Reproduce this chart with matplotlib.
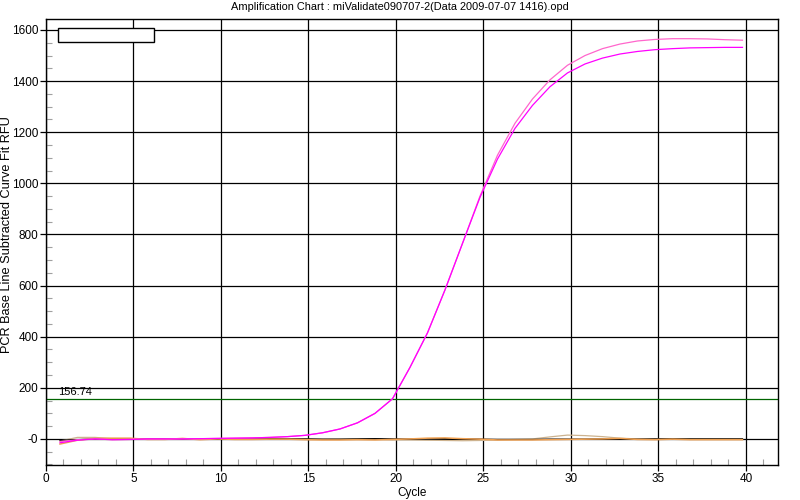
import numpy as np
import matplotlib
matplotlib.use("Agg")
import matplotlib.pyplot as plt
from matplotlib.patches import Rectangle
from matplotlib.ticker import MultipleLocator, FixedLocator

plt.rcParams['font.family'] = ['Liberation Sans', 'DejaVu Sans']

title = "Amplification Chart : miValidate090707-2(Data 2009-07-07 1416).opd"
cycles = np.arange(1, 41)
x_offset = -0.2  # instrument draws points slightly before the cycle tick

well_a = [-10, -3, 0, -3, -2, 0, 0, 0, 1, 2, 3, 4, 6, 9, 14, 24, 39, 63, 100, 157,
          280, 415, 583, 765, 950, 1110, 1235, 1330, 1405, 1462, 1500, 1527, 1545,
          1557, 1563, 1566, 1566, 1565, 1562, 1560]
well_b = [-15, -5, 0, -3, -2, 0, 0, 0, 1, 2, 3, 4, 6, 9, 14, 24, 39, 63, 100, 157,
          280, 415, 583, 765, 945, 1095, 1215, 1305, 1378, 1432, 1467, 1490, 1506,
          1516, 1523, 1527, 1530, 1531, 1532, 1532]
neg_orange = [-20, -5, 2, 3, 3, -2, -2, 2, -3, 0, -2, -2, -1, -1, -3, -4, -4, -3, -4, -2,
              0, 3, 4, 1, -1, -4, -4, -4, -3, -2, -1, 0, 2, -2, -3, -1, -3, -3, -3, -3]
neg_black = [-5, -3, 0, 0, 0, 0, 0, 0, 0, 0, 0, 0, 0, 0, 0, -1, -1, 0, 1, 0,
             -1, 1, 1, 0, -1, -2, -2, -2, -1, -1, -1, 0, -1, -1, 0, 0, 0, 0, 0, 0]
neg_tan = [-8, 6, 6, 1, 0, 0, 0, 0, 0, 0, 0, 1, 1, 0, -1, -2, -1, 0, 0, -4,
           -4, -5, -6, -7, -6, -4, -2, 0, 8, 15, 13, 9, 3, 0, 0, 0, 0, 0, 0, 0]
threshold = 156.74

x_ticks = [0, 5, 10, 15, 20, 25, 30, 35, 40]
y_ticks = [0, 200, 400, 600, 800, 1000, 1200, 1400, 1600]
y_tick_labels = ["-0", "200", "400", "600", "800", "1000", "1200", "1400", "1600"]

fig = plt.figure(figsize=(8, 5), dpi=100)
ax = fig.add_axes([0.0575, 0.07, 0.915, 0.892])

xs = cycles + x_offset
ax.plot(xs, neg_tan, color='#cdb38f', lw=0.9, zorder=3)
ax.plot(xs, neg_black, color='black', lw=0.9, zorder=3)
ax.plot(xs, neg_orange, color='#f0a050', lw=1.1, zorder=3)
ax.plot(xs, well_a, color='#ff66cc', lw=0.9, zorder=4)
ax.plot(xs, well_b, color='#ff00ff', lw=0.9, zorder=4)

ax.axhline(threshold, color='#006400', lw=0.9, zorder=2)
ax.text(0.7, threshold + 8, f"{threshold:.2f}", fontsize=8, va='bottom', ha='left')

ax.set_xlim(0, 41.83)
ax.set_ylim(-102, 1643)
ax.xaxis.set_major_locator(FixedLocator(x_ticks))
ax.yaxis.set_major_locator(FixedLocator(y_ticks))
ax.set_yticklabels(y_tick_labels)
ax.xaxis.set_minor_locator(MultipleLocator(1))
ax.yaxis.set_minor_locator(MultipleLocator(50))
ax.grid(True, which='major', color='black', lw=0.9)
ax.set_axisbelow(True)
ax.tick_params(which='major', direction='out', length=4, width=0.9, labelsize=8.5, pad=1.5)
ax.tick_params(which='minor', direction='in', length=4, width=0.8, color='#a0a0a0')
for s in ax.spines.values():
    s.set_linewidth(1.0)

ax.add_patch(Rectangle((0.0164, 0.948), 0.131, 0.032, transform=ax.transAxes,
                       facecolor='white', edgecolor='black', lw=1.0, zorder=5))

fig.text(0.5, 0.986, title, ha='center', va='center', fontsize=7.9)
ax.set_xlabel("Cycle", fontsize=8.5, labelpad=2)
fig.text(0.0085, 0.53, "PCR Base Line Subtracted Curve Fit RFU", rotation=90,
         ha='center', va='center', fontsize=9.2)

fig.savefig("out.png", dpi=100)
